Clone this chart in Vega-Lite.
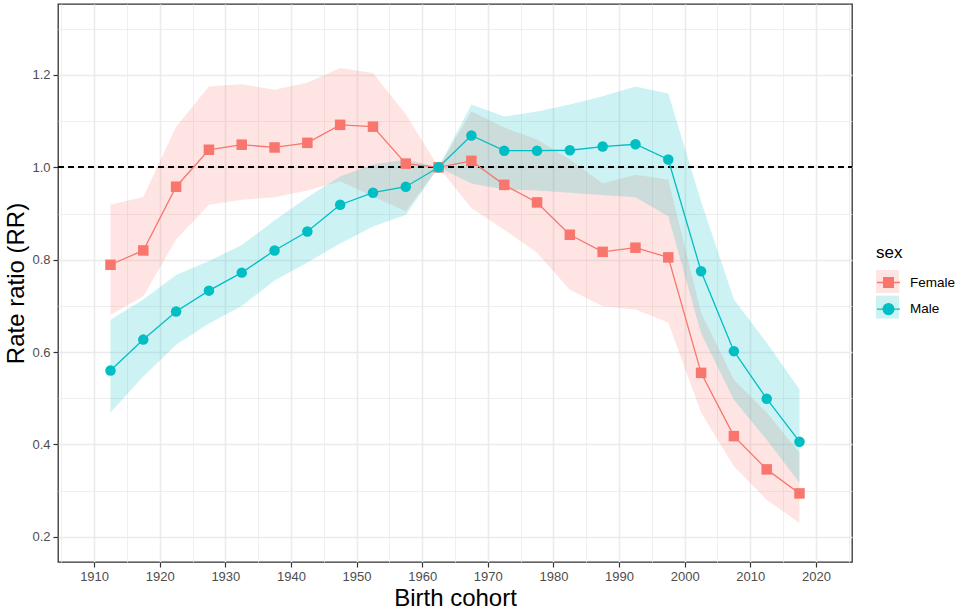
{
  "$schema": "https://vega.github.io/schema/vega-lite/v6.json",
  "width": 794,
  "height": 558,
  "autosize": {"type": "none"},
  "padding": {"left": 58, "top": 4, "right": 105, "bottom": 48},
  "background": "white",
  "datasets": {
    "rr": [
      {"sex": "Female", "cohort": 1912.5, "rr": 0.789, "lower": 0.681, "upper": 0.919},
      {"sex": "Female", "cohort": 1917.5, "rr": 0.820, "lower": 0.721, "upper": 0.936},
      {"sex": "Female", "cohort": 1922.5, "rr": 0.958, "lower": 0.844, "upper": 1.088},
      {"sex": "Female", "cohort": 1927.5, "rr": 1.038, "lower": 0.919, "upper": 1.175},
      {"sex": "Female", "cohort": 1932.5, "rr": 1.049, "lower": 0.930, "upper": 1.180},
      {"sex": "Female", "cohort": 1937.5, "rr": 1.043, "lower": 0.935, "upper": 1.168},
      {"sex": "Female", "cohort": 1942.5, "rr": 1.053, "lower": 0.950, "upper": 1.183},
      {"sex": "Female", "cohort": 1947.5, "rr": 1.092, "lower": 0.970, "upper": 1.215},
      {"sex": "Female", "cohort": 1952.5, "rr": 1.088, "lower": 0.937, "upper": 1.204},
      {"sex": "Female", "cohort": 1957.5, "rr": 1.008, "lower": 0.905, "upper": 1.115},
      {"sex": "Female", "cohort": 1962.5, "rr": 1.000, "lower": 1.000, "upper": 1.000},
      {"sex": "Female", "cohort": 1967.5, "rr": 1.014, "lower": 0.912, "upper": 1.121},
      {"sex": "Female", "cohort": 1972.5, "rr": 0.962, "lower": 0.865, "upper": 1.086},
      {"sex": "Female", "cohort": 1977.5, "rr": 0.924, "lower": 0.815, "upper": 1.060},
      {"sex": "Female", "cohort": 1982.5, "rr": 0.854, "lower": 0.735, "upper": 1.017},
      {"sex": "Female", "cohort": 1987.5, "rr": 0.817, "lower": 0.699, "upper": 0.965},
      {"sex": "Female", "cohort": 1992.5, "rr": 0.826, "lower": 0.692, "upper": 0.984},
      {"sex": "Female", "cohort": 1997.5, "rr": 0.805, "lower": 0.664, "upper": 0.973},
      {"sex": "Female", "cohort": 2002.5, "rr": 0.555, "lower": 0.469, "upper": 0.685},
      {"sex": "Female", "cohort": 2007.5, "rr": 0.418, "lower": 0.353, "upper": 0.540},
      {"sex": "Female", "cohort": 2012.5, "rr": 0.346, "lower": 0.280, "upper": 0.469},
      {"sex": "Female", "cohort": 2017.5, "rr": 0.294, "lower": 0.230, "upper": 0.382},
      {"sex": "Male", "cohort": 1912.5, "rr": 0.560, "lower": 0.469, "upper": 0.670},
      {"sex": "Male", "cohort": 1917.5, "rr": 0.627, "lower": 0.547, "upper": 0.714},
      {"sex": "Male", "cohort": 1922.5, "rr": 0.688, "lower": 0.616, "upper": 0.767},
      {"sex": "Male", "cohort": 1927.5, "rr": 0.733, "lower": 0.662, "upper": 0.797},
      {"sex": "Male", "cohort": 1932.5, "rr": 0.772, "lower": 0.700, "upper": 0.832},
      {"sex": "Male", "cohort": 1937.5, "rr": 0.820, "lower": 0.755, "upper": 0.885},
      {"sex": "Male", "cohort": 1942.5, "rr": 0.861, "lower": 0.794, "upper": 0.935},
      {"sex": "Male", "cohort": 1947.5, "rr": 0.919, "lower": 0.835, "upper": 0.980},
      {"sex": "Male", "cohort": 1952.5, "rr": 0.945, "lower": 0.872, "upper": 1.006},
      {"sex": "Male", "cohort": 1957.5, "rr": 0.958, "lower": 0.897, "upper": 1.017},
      {"sex": "Male", "cohort": 1962.5, "rr": 1.000, "lower": 1.000, "upper": 1.000},
      {"sex": "Male", "cohort": 1967.5, "rr": 1.069, "lower": 0.965, "upper": 1.136},
      {"sex": "Male", "cohort": 1972.5, "rr": 1.036, "lower": 0.952, "upper": 1.110},
      {"sex": "Male", "cohort": 1977.5, "rr": 1.036, "lower": 0.950, "upper": 1.121},
      {"sex": "Male", "cohort": 1982.5, "rr": 1.037, "lower": 0.945, "upper": 1.136},
      {"sex": "Male", "cohort": 1987.5, "rr": 1.045, "lower": 0.940, "upper": 1.154},
      {"sex": "Male", "cohort": 1992.5, "rr": 1.050, "lower": 0.935, "upper": 1.175},
      {"sex": "Male", "cohort": 1997.5, "rr": 1.017, "lower": 0.894, "upper": 1.160},
      {"sex": "Male", "cohort": 2002.5, "rr": 0.775, "lower": 0.641, "upper": 0.926},
      {"sex": "Male", "cohort": 2007.5, "rr": 0.602, "lower": 0.497, "upper": 0.714},
      {"sex": "Male", "cohort": 2012.5, "rr": 0.499, "lower": 0.410, "upper": 0.620},
      {"sex": "Male", "cohort": 2017.5, "rr": 0.406, "lower": 0.317, "upper": 0.519}
    ]
  },
  "data": {"name": "rr"},
  "encoding": {
    "x": {
      "field": "cohort",
      "type": "quantitative",
      "title": "Birth cohort",
      "scale": {"domain": [1904.5, 2025.5], "nice": false, "zero": false},
      "axis": {
        "values": [1905, 1910, 1915, 1920, 1925, 1930, 1935, 1940, 1945, 1950, 1955, 1960, 1965, 1970, 1975, 1980, 1985, 1990, 1995, 2000, 2005, 2010, 2015, 2020, 2025],
        "format": "d",
        "labelExpr": "datum.value % 10 === 0 ? datum.label : ''",
        "gridWidth": {"condition": {"test": "datum.value % 10 === 0", "value": 1.6}, "value": 0.8},
        "tickOpacity": {"condition": {"test": "datum.value % 10 === 0", "value": 1}, "value": 0},
        "labelPadding": 3,
        "titlePadding": 3
      }
    },
    "y": {
      "field": "rr",
      "type": "quantitative",
      "title": "Rate ratio (RR)",
      "scale": {"domain": [0.1455, 1.3536], "nice": false, "zero": false},
      "axis": {
        "values": [0.2, 0.3, 0.4, 0.5, 0.6, 0.7, 0.8, 0.9, 1.0, 1.1, 1.2, 1.3],
        "format": ".1f",
        "labelExpr": "round(datum.value * 10) % 2 === 0 ? datum.label : ''",
        "gridWidth": {"condition": {"test": "round(datum.value * 10) % 2 === 0", "value": 1.6}, "value": 0.8},
        "tickOpacity": {"condition": {"test": "round(datum.value * 10) % 2 === 0", "value": 1}, "value": 0},
        "labelPadding": 3,
        "titlePadding": 3
      }
    }
  },
  "layer": [
    {
      "mark": {"type": "area", "fillOpacity": 0.2},
      "encoding": {
        "y": {"field": "lower", "type": "quantitative", "title": "Rate ratio (RR)"},
        "y2": {"field": "upper"},
        "fill": {
          "field": "sex",
          "type": "nominal",
          "title": "sex",
          "scale": {"domain": ["Female", "Male"], "range": ["#F8766D", "#00BFC4"]},
          "legend": {
            "orient": "none",
            "legendX": 818,
            "legendY": 241,
            "direction": "vertical",
            "padding": 0,
            "symbolType": "square",
            "symbolSize": 529,
            "symbolOpacity": 0.2,
            "symbolStrokeWidth": 0,
            "rowPadding": 2.6,
            "labelOffset": 9,
            "labelFontSize": 13.5,
            "labelOpacity": 0,
            "titleFontSize": 17,
            "titlePadding": 8,
            "titleOpacity": 0
          }
        }
      }
    },
    {
      "mark": {"type": "rule", "color": "black", "strokeWidth": 1.4, "strokeDash": [6, 4]},
      "encoding": {
        "x": {
          "datum": 1904.5,
          "type": "quantitative",
          "title": "Birth cohort",
          "scale": {"domain": [1904.5, 2025.5], "nice": false, "zero": false},
          "axis": {
            "values": [1905, 1910, 1915, 1920, 1925, 1930, 1935, 1940, 1945, 1950, 1955, 1960, 1965, 1970, 1975, 1980, 1985, 1990, 1995, 2000, 2005, 2010, 2015, 2020, 2025],
            "format": "d",
            "labelExpr": "datum.value % 10 === 0 ? datum.label : ''",
            "gridWidth": {"condition": {"test": "datum.value % 10 === 0", "value": 1.6}, "value": 0.8},
            "tickOpacity": {"condition": {"test": "datum.value % 10 === 0", "value": 1}, "value": 0},
            "labelPadding": 3,
            "titlePadding": 3
          }
        },
        "x2": {"datum": 2025.5},
        "y": {"datum": 1, "type": "quantitative", "title": "Rate ratio (RR)"}
      }
    },
    {
      "mark": {"type": "line", "strokeWidth": 1.3},
      "encoding": {
        "color": {"field": "sex", "type": "nominal", "title": "sex", "scale": {"range": ["#F8766D", "#00BFC4"]}}
      }
    },
    {
      "mark": {"type": "point", "filled": true, "size": 110, "opacity": 1, "strokeWidth": 0},
      "encoding": {
        "color": {
          "field": "sex",
          "type": "nominal",
          "title": "sex",
          "scale": {"range": ["#F8766D", "#00BFC4"]},
          "legend": {
            "orient": "none",
            "legendX": 818,
            "legendY": 241,
            "direction": "vertical",
            "padding": 0,
            "symbolSize": 529,
            "rowPadding": 6.6,
            "labelOffset": 9,
            "labelFontSize": 13.5,
            "labelColor": "black",
            "titleFontSize": 17,
            "titlePadding": 8,
            "titleColor": "black",
            "titleFontWeight": "normal",
            "encoding": {
              "symbols": {
                "shape": {
                  "condition": {"test": "datum.value === 'Female'", "value": "M-1,0H1M-0.42,-0.42H0.42V0.42H-0.42Z"},
                  "value": "M-1,0H1M0.47,0A0.47,0.47 0 1 1 -0.47,0A0.47,0.47 0 1 1 0.47,0Z"
                },
                "stroke": {
                  "condition": {"test": "datum.value === 'Female'", "value": "#F8766D"},
                  "value": "#00BFC4"
                },
                "strokeWidth": {"value": 1.3},
                "size": {"value": 529},
                "opacity": {"value": 1}
              }
            }
          }
        },
        "shape": {
          "field": "sex",
          "type": "nominal",
          "scale": {"range": ["square", "circle"]},
          "legend": null
        }
      }
    }
  ],
  "config": {
    "font": "Liberation Sans",
    "view": {"stroke": "#333333", "strokeWidth": 1.3},
    "axis": {
      "domain": false,
      "gridColor": "#EBEBEB",
      "tickColor": "#333333",
      "tickSize": 5,
      "tickWidth": 1.2,
      "labelColor": "#4D4D4D",
      "labelFontSize": 13,
      "labelFont": "Liberation Sans",
      "titleFont": "Liberation Sans",
      "titleFontSize": 24,
      "titleFontWeight": "normal",
      "titleColor": "black"
    },
    "legend": {
      "labelFont": "Liberation Sans",
      "titleFont": "Liberation Sans"
    }
  }
}
